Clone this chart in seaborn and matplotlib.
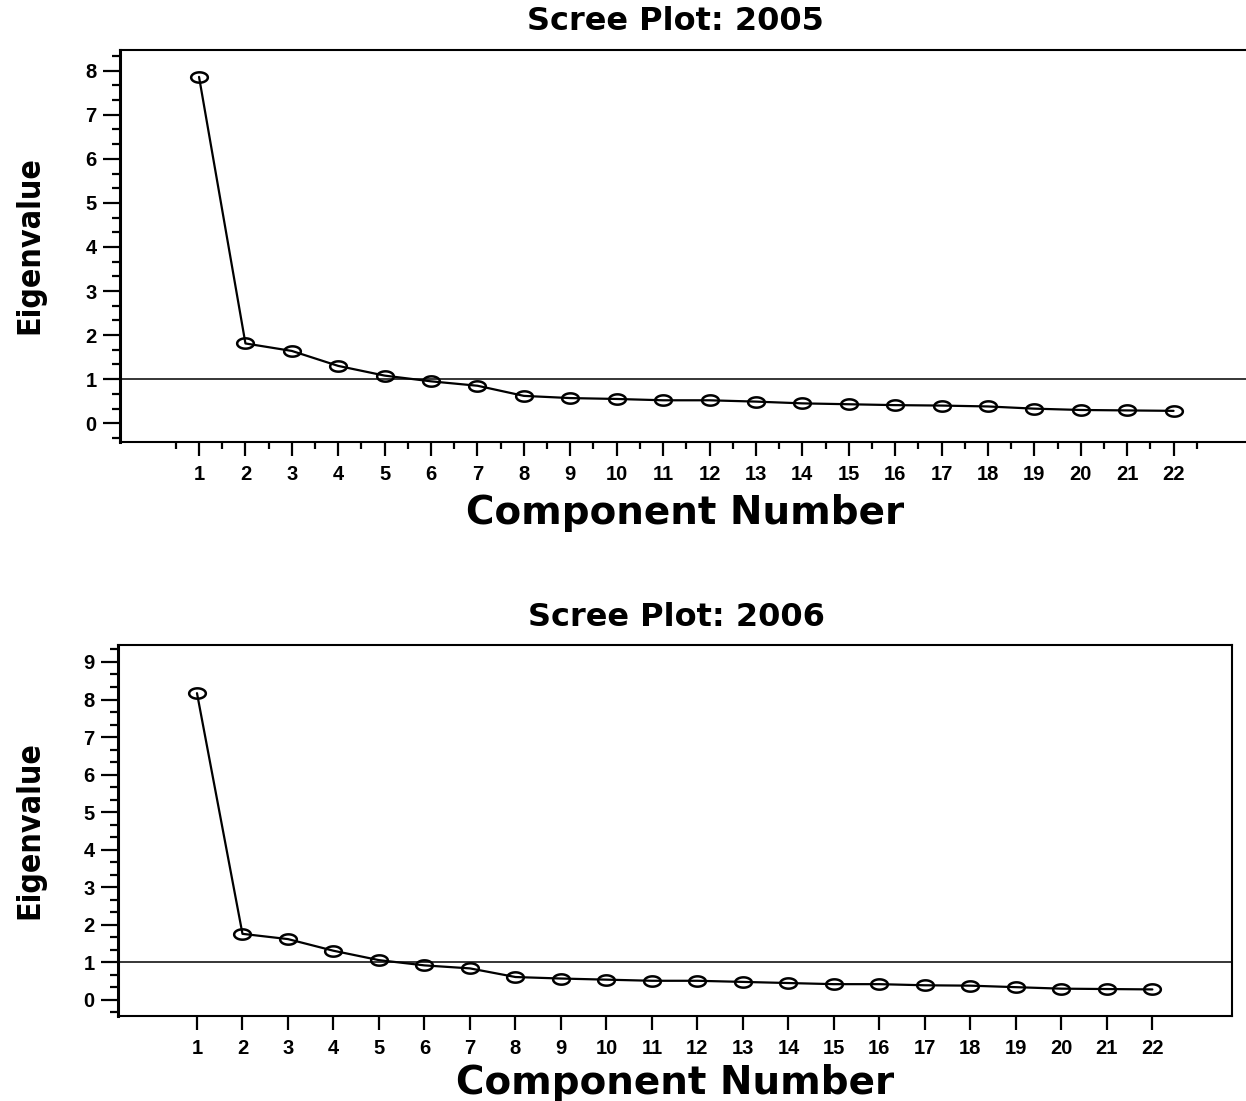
import numpy as np
import pandas as pd
import matplotlib
matplotlib.use("Agg")
import matplotlib.pyplot as plt
from matplotlib import font_manager
from matplotlib.font_manager import FontProperties
from matplotlib.path import Path
from matplotlib.markers import MarkerStyle
from matplotlib.ticker import FixedLocator
import seaborn as sns

# Eigenvalues per principal component
components = list(range(1, 23))
eig_2005 = [7.86, 1.81, 1.64, 1.30, 1.08, 0.95, 0.85, 0.62, 0.57, 0.55, 0.52,
            0.52, 0.49, 0.45, 0.43, 0.41, 0.40, 0.38, 0.33, 0.30, 0.29, 0.28]
eig_2006 = [8.17, 1.76, 1.62, 1.31, 1.06, 0.92, 0.84, 0.61, 0.57, 0.54, 0.51,
            0.51, 0.48, 0.45, 0.42, 0.42, 0.39, 0.38, 0.34, 0.30, 0.29, 0.28]
titles = ["Scree Plot: 2005", "Scree Plot: 2006"]
x_label = "Component Number"
y_label = "Eigenvalue"
kaiser_cutoff = 1.0

sns.set_style("ticks")
plt.rcParams["font.family"] = ["Liberation Sans", "DejaVu Sans"]
for key in ("text.color", "axes.labelcolor", "xtick.color", "ytick.color",
            "axes.edgecolor"):
    plt.rcParams[key] = "black"

# a condensed bold face for the vertical axis label, if one is installed
def condensed_bold():
    best = None
    for f in font_manager.fontManager.ttflist:
        narrow = ("Narrow" in f.name or "Condensed" in f.name
                  or str(f.stretch) in ("condensed", "semi-condensed", "extra-condensed"))
        bold = str(f.weight) in ("bold", "700", "heavy", "black", "800", "900") or \
            (isinstance(f.weight, int) and f.weight >= 700)
        if narrow and bold:
            if best is None or "Liberation" in f.name:
                best = f
    return best

cf = condensed_bold()
if cf is not None:
    ylab_prop = FontProperties(fname=cf.fname, size=23)
else:
    ylab_prop = FontProperties(family="Liberation Sans", weight="bold", size=21)

# flattened ellipse marker
t = np.linspace(0, 2 * np.pi, 60)
ellipse = Path(np.column_stack([np.cos(t), 0.62 * np.sin(t)]), closed=True)
oval = MarkerStyle(ellipse)

W, H = 1246, 1101
fig = plt.figure(figsize=(W / 100, H / 100), dpi=100)

def px_rect(left, top, right, bottom):
    return [left / W, 1 - bottom / H, (right - left) / W, (bottom - top) / H]

panels = [
    dict(vals=eig_2005, rect=px_rect(120, 50, 1252, 441.7), xlim=(-0.703, 23.69),
         ylim=(-0.42, 8.47), ymax=8, xminor=True,
         title_xy=(675, 21), xlab_xy=(685, 513), ylab_xy=(30, 245)),
    dict(vals=eig_2006, rect=px_rect(118, 644.7, 1232, 1015.7), xlim=(-0.736, 23.75),
         ylim=(-0.42, 9.46), ymax=9, xminor=False,
         title_xy=(676, 617), xlab_xy=(675, 1083), ylab_xy=(30, 830)),
]

for title, p in zip(titles, panels):
    ax = fig.add_axes(p["rect"])
    df = pd.DataFrame({"component": components, "eigenvalue": p["vals"]})
    sns.lineplot(data=df, x="component", y="eigenvalue", ax=ax, color="black",
                 linewidth=1.6, marker=oval, markersize=12, markerfacecolor="none",
                 markeredgecolor="black", markeredgewidth=1.8, zorder=3)
    ax.axhline(kaiser_cutoff, color="black", linewidth=1.1, zorder=2)
    ax.set_xlim(*p["xlim"])
    ax.set_ylim(*p["ylim"])
    ax.set_xlabel("")
    ax.set_ylabel("")

    ax.xaxis.set_major_locator(FixedLocator(components))
    if p["xminor"]:
        ax.xaxis.set_minor_locator(FixedLocator(np.arange(0.5, 23, 1.0)))
    yt = list(range(0, p["ymax"] + 1))
    ax.yaxis.set_major_locator(FixedLocator(yt))
    ax.yaxis.set_minor_locator(FixedLocator(
        [v for v in np.arange(-1 / 3, p["ymax"] + 0.4, 1 / 3)
         if abs(v - round(v)) > 0.05]))
    ax.set_xticklabels([str(c) for c in components], fontweight="bold")
    ax.set_yticklabels([str(v) for v in yt], fontweight="bold")

    ax.tick_params(axis="x", which="major", length=10, width=1.6, pad=7,
                   labelsize=14.5, colors="black")
    ax.tick_params(axis="x", which="minor", length=5, width=1.6)
    ax.tick_params(axis="y", which="major", length=12, width=1.6, pad=5,
                   labelsize=14.5, colors="black")
    ax.tick_params(axis="y", which="minor", length=6, width=1.6)
    for s in ax.spines.values():
        s.set_visible(True)
        s.set_color("black")
        s.set_linewidth(1.5)
    ax.spines["left"].set_linewidth(2.2)

    tx, ty = p["title_xy"]
    fig.text(tx / W, 1 - ty / H, title, ha="center", va="center",
             fontsize=23, fontweight="bold", family="DejaVu Sans", color="black")
    lx, ly = p["xlab_xy"]
    fig.text(lx / W, 1 - ly / H, x_label, ha="center", va="center",
             fontsize=28, fontweight="bold", family="DejaVu Sans", color="black")
    yx, yy = p["ylab_xy"]
    fig.text(yx / W, 1 - yy / H, y_label, ha="center", va="center", rotation=90,
             fontproperties=ylab_prop, color="black")

fig.savefig("out.png", dpi=100, facecolor="white")
